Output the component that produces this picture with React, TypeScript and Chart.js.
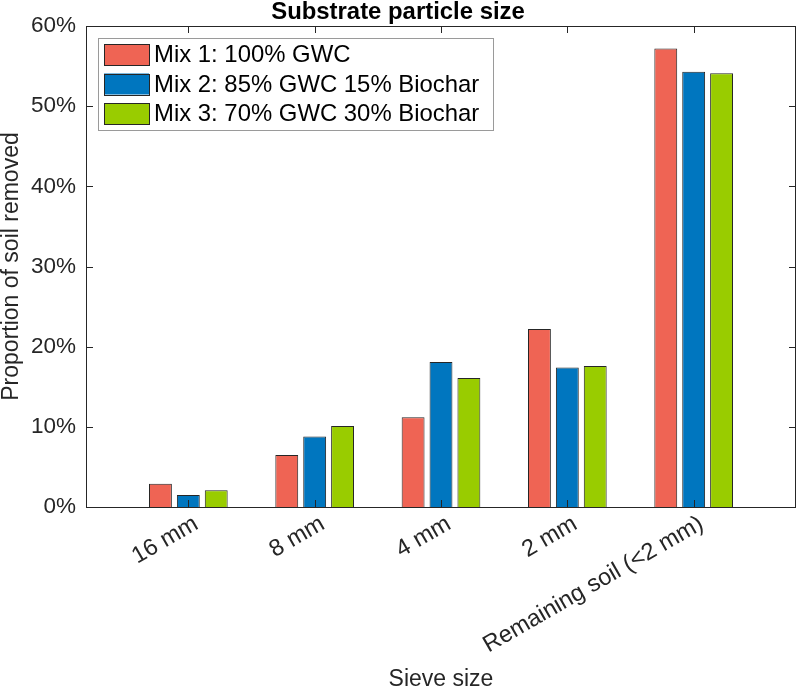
import React, { useEffect, useRef } from "react";
import { Chart, registerables } from "chart.js";

Chart.register(...registerables);

// Sieve fractions along the x axis
const sieveSizes = ["16 mm", "8 mm", "4 mm", "2 mm", "Remaining soil (<2 mm)"];

// Proportion of soil removed (%) for each substrate mix
const mix1 = [2.9, 6.5, 11.2, 22.2, 57.2];
const mix2 = [1.5, 8.8, 18.1, 17.4, 54.3];
const mix3 = [2.1, 10.1, 16.1, 17.6, 54.1];

const seriesLabels = [
  "Mix 1: 100% GWC",
  "Mix 2: 85% GWC 15% Biochar",
  "Mix 3: 70% GWC 30% Biochar",
];
const seriesColors = ["#EF6454", "#0076BF", "#99CC00"];

const yTicks = [0, 10, 20, 30, 40, 50, 60];

const FONT = "'Liberation Sans', Arial, Helvetica, sans-serif";
const AXIS_COLOR = "#262626";

// Draws the boxed axes with inward tick marks and the framed legend.
const framePlugin = {
  id: "frameAndLegend",
  afterDatasetsDraw(chart: any) {
    const { ctx, chartArea } = chart;
    const { left, right, top, bottom } = chartArea;
    const xs = chart.scales.x;
    const ys = chart.scales.y;
    const tl = 7;
    ctx.save();
    ctx.strokeStyle = AXIS_COLOR;
    ctx.lineWidth = 1;
    ctx.beginPath();
    ctx.rect(Math.round(left) + 0.5, Math.round(top) + 0.5, Math.round(right - left) - 1, Math.round(bottom - top));
    ctx.stroke();

    ctx.beginPath();
    yTicks.forEach((v) => {
      const py = Math.round(ys.getPixelForValue(v)) + 0.5;
      ctx.moveTo(left, py);
      ctx.lineTo(left + tl, py);
      ctx.moveTo(right, py);
      ctx.lineTo(right - tl, py);
    });
    sieveSizes.forEach((_, i) => {
      const px = Math.round(xs.getPixelForValue(i + 1)) + 0.5;
      ctx.moveTo(px, bottom);
      ctx.lineTo(px, bottom - tl);
      ctx.moveTo(px, top);
      ctx.lineTo(px, top + tl);
    });
    ctx.stroke();

    // Legend
    ctx.font = `23.9px ${FONT}`;
    const textW = Math.max(...seriesLabels.map((s) => ctx.measureText(s).width));
    const bx = left + 12;
    const by = top + 12;
    const bw = 56 + textW + 14;
    const bh = 92;
    ctx.fillStyle = "#ffffff";
    ctx.fillRect(bx, by, bw, bh);
    ctx.strokeStyle = "#9a9a9a";
    ctx.strokeRect(Math.round(bx) + 0.5, Math.round(by) + 0.5, Math.round(bw), Math.round(bh));
    chart.data.datasets.forEach((ds: any, i: number) => {
      const sy = by + 6 + i * 29.5;
      ctx.fillStyle = ds.backgroundColor;
      ctx.fillRect(bx + 6, sy, 45, 21);
      ctx.strokeStyle = AXIS_COLOR;
      ctx.strokeRect(Math.round(bx + 6) + 0.5, Math.round(sy) + 0.5, 45, 21);
      ctx.fillStyle = "#000000";
      ctx.textAlign = "left";
      ctx.textBaseline = "middle";
      ctx.fillText(ds.label, bx + 56, sy + 11.5);
    });
    ctx.restore();
  },
};

export default function App() {
  const canvasRef = useRef<HTMLCanvasElement>(null);

  useEffect(() => {
    const canvas = canvasRef.current;
    if (!canvas) return;
    const series = [mix1, mix2, mix3];
    const chart = new Chart(canvas, {
      type: "bar",
      data: {
        datasets: series.map((values, s) => ({
          label: seriesLabels[s],
          data: values.map((v, i) => ({ x: i + 1, y: v })),
          backgroundColor: seriesColors[s],
          borderColor: AXIS_COLOR,
          borderWidth: 1,
          categoryPercentage: 0.6625,
          barPercentage: 0.82,
        })),
      },
      options: {
        responsive: false,
        animation: false,
        layout: { padding: { left: 0, right: 2, top: 0, bottom: 0 } },
        plugins: {
          legend: { display: false },
          tooltip: { enabled: false },
          title: {
            display: true,
            text: "Substrate particle size",
            color: "#000000",
            font: { family: FONT, size: 23.9, weight: "bold", lineHeight: 1 },
            padding: { top: 0, bottom: 2.1 },
          },
        },
        scales: {
          x: {
            type: "linear",
            offset: false,
            min: 0.19,
            max: 5.81,
            afterBuildTicks: (axis: any) => {
              axis.ticks = sieveSizes.map((_, i) => ({ value: i + 1 }));
            },
            afterFit: (axis: any) => {
              axis.height = 185;
            },
            grid: { display: false, drawTicks: false, offset: false },
            border: { display: false },
            ticks: {
              autoSkip: false,
              minRotation: 30,
              maxRotation: 30,
              padding: 3,
              labelOffset: 8,
              color: AXIS_COLOR,
              font: { family: FONT, size: 23.6 },
              callback: (v: any) => sieveSizes[Math.round(Number(v)) - 1] ?? "",
            },
            title: {
              display: true,
              text: "Sieve size",
              color: AXIS_COLOR,
              font: { family: FONT, size: 23, lineHeight: 1 },
              padding: { top: 0, bottom: 0.5 },
            },
          },
          y: {
            min: 0,
            max: 60,
            afterBuildTicks: (axis: any) => {
              axis.ticks = yTicks.map((v) => ({ value: v }));
            },
            afterFit: (axis: any) => {
              axis.width = 86;
            },
            grid: { display: false, drawTicks: false },
            border: { display: false },
            ticks: {
              padding: 10,
              color: AXIS_COLOR,
              font: { family: FONT, size: 22.5 },
              callback: (v: any) => `${v}%`,
            },
            title: {
              display: true,
              text: "Proportion of soil removed",
              color: AXIS_COLOR,
              font: { family: FONT, size: 23, lineHeight: 1 },
              padding: { top: 0, bottom: 0 },
            },
          },
        },
      },
      plugins: [framePlugin],
    } as any);
    return () => chart.destroy();
  }, []);

  return (
    <div style={{ position: "absolute", left: 0, top: 0, width: 798, height: 692, background: "#ffffff" }}>
      <canvas ref={canvasRef} width={798} height={692} style={{ display: "block" }} />
    </div>
  );
}
